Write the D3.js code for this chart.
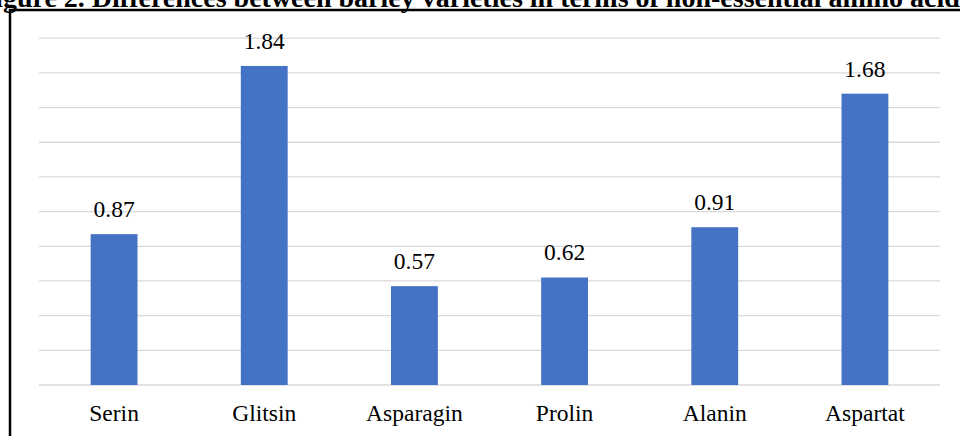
<!DOCTYPE html>
<html>
<head>
<meta charset="utf-8">
<script src="https://cdn.jsdelivr.net/npm/d3@7"></script>
<style>
  body { margin: 0; background: #fff; }
  svg { display: block; }
</style>
</head>
<body>
<div id="chart"></div>
<script>
// Chart data
const categories = ["Serin", "Glitsin", "Asparagin", "Prolin", "Alanin", "Aspartat"];
const values = [0.87, 1.84, 0.57, 0.62, 0.91, 1.68];
const yTicks = [0, 0.2, 0.4, 0.6, 0.8, 1.0, 1.2, 1.4, 1.6, 1.8, 2.0];
const titleText = "Figure 2. Differences between barley varieties in terms of non-essential amino acids";

const width = 960;
const height = 436;
const plotLeft = 39;
const plotRight = 940;
const plotTop = 38.2;
const plotBottom = 385;
const font = "'Liberation Serif', 'Times New Roman', serif";

const svg = d3.select("#chart")
    .append("svg")
    .attr("width", width)
    .attr("height", height)
    .attr("viewBox", [0, 0, width, height]);

// Cropped caption above the frame
svg.append("text")
    .attr("x", -22)
    .attr("y", 7)
    .attr("font-family", font)
    .attr("font-weight", "bold")
    .attr("font-size", 28)
    .attr("fill", "#000")
    .text(titleText);

// Frame around the chart (runs off the right and bottom edges)
svg.append("rect")
    .attr("x", 10)
    .attr("y", 10)
    .attr("width", width + 20)
    .attr("height", height + 20)
    .attr("fill", "none")
    .attr("stroke", "#000")
    .attr("stroke-width", 2.5);

const x = d3.scaleBand()
    .domain(categories)
    .range([plotLeft, plotRight])
    .paddingInner(0.688)
    .paddingOuter(0.344);

const y = d3.scaleLinear()
    .domain([0, 2])
    .range([plotBottom, plotTop]);

// Horizontal grid lines
svg.append("g")
    .selectAll("line")
    .data(yTicks)
    .join("line")
    .attr("x1", plotLeft)
    .attr("x2", plotRight)
    .attr("y1", d => y(d))
    .attr("y2", d => y(d))
    .attr("stroke", "#d9d9d9")
    .attr("stroke-width", 1.3);

// Bars
svg.append("g")
    .selectAll("rect")
    .data(values)
    .join("rect")
    .attr("x", (d, i) => x(categories[i]))
    .attr("y", d => y(d))
    .attr("width", x.bandwidth())
    .attr("height", d => y(0) - y(d))
    .attr("fill", "#4472c4");

// Value labels
svg.append("g")
    .selectAll("text")
    .data(values)
    .join("text")
    .attr("x", (d, i) => x(categories[i]) + x.bandwidth() / 2)
    .attr("y", d => y(d) - 17)
    .attr("text-anchor", "middle")
    .attr("font-family", font)
    .attr("font-size", 23.5)
    .attr("fill", "#000")
    .text(d => d.toFixed(2));

// Category axis
const xAxis = svg.append("g")
    .attr("transform", `translate(0,${plotBottom})`)
    .call(d3.axisBottom(x).tickSize(0).tickPadding(0));

xAxis.select(".domain").remove();
xAxis.selectAll(".tick text")
    .attr("dy", null)
    .attr("y", 35.7)
    .attr("font-family", font)
    .attr("font-size", 23.5)
    .attr("fill", "#000");
</script>
</body>
</html>
